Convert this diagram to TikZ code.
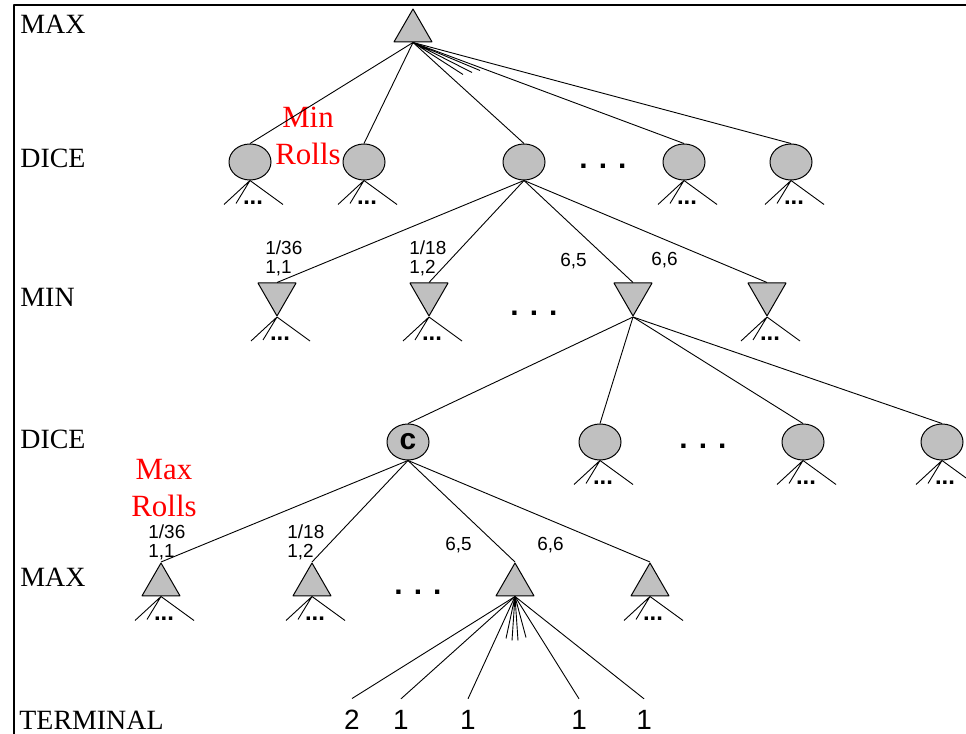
\documentclass[tikz,border=0pt]{standalone}
\usepackage{fontspec}
\setmainfont{Liberation Serif}
\setsansfont{Liberation Sans}
\usetikzlibrary{shapes.geometric,calc}
\definecolor{nodegray}{HTML}{C0C0C0}
\begin{document}
\begin{tikzpicture}[line join=bevel,line width=0.9bp,
    maxnode/.style={draw=black,line width=1bp,fill=nodegray,regular polygon,regular polygon sides=3,minimum size=44bp,inner sep=0pt},
    minnode/.style={maxnode,shape border rotate=180},
    dicenode/.style={draw=black,line width=1bp,fill=nodegray,ellipse,minimum width=42bp,minimum height=36bp,inner sep=0pt},
    rowlabel/.style={anchor=base west,inner sep=0pt,font=\fontsize{28}{34}\selectfont},
    prob/.style={anchor=north west,inner sep=0pt,align=left,font=\sffamily\fontsize{19}{19}\selectfont},
    rolls/.style={text=red,align=center,inner sep=0pt,font=\fontsize{31}{37}\selectfont},
    bigdots/.style={anchor=base,inner sep=0pt,font=\sffamily\bfseries\fontsize{30}{30}\selectfont},
    smalldots/.style={anchor=base,inner sep=0pt,font=\sffamily\bfseries\fontsize{24}{24}\selectfont},
    term/.style={anchor=base,inner sep=0pt,outer sep=11bp,font=\sffamily\fontsize{28}{28}\selectfont},
    ]
    \useasboundingbox (0bp,0bp) rectangle (966bp,734bp);
    \draw [line width=2bp] (14bp,0bp) -- (14bp,729bp) -- (966bp,729bp);
    %% row names
    \node (lmax) at (20bp,700bp) [rowlabel] {MAX};
    \node (ldice) at (20bp,566bp) [rowlabel] {DICE};
    \node (lmin) at (20bp,427bp) [rowlabel] {MIN};
    \node (ldicetwo) at (20bp,285bp) [rowlabel] {DICE};
    \node (lmaxtwo) at (20bp,147bp) [rowlabel] {MAX};
    \node (lterm) at (19bp,5bp) [rowlabel] {TERMINAL};
    %% tree nodes
    \node (r0) at (413bp,703bp) [maxnode] {};
    \node (d1) at (250bp,572bp) [dicenode] {};
    \node (d2) at (364bp,572bp) [dicenode] {};
    \node (d3) at (524bp,572bp) [dicenode] {};
    \node (d4) at (684bp,572bp) [dicenode] {};
    \node (d5) at (791bp,572bp) [dicenode] {};
    \node (n1) at (277bp,440bp) [minnode] {};
    \node (n2) at (429bp,440bp) [minnode] {};
    \node (n3) at (633bp,440bp) [minnode] {};
    \node (n4) at (767bp,440bp) [minnode] {};
    \node (c1) at (408bp,292bp) [dicenode,font=\sffamily\bfseries\fontsize{30}{30}\selectfont] {c};
    \node (e2) at (600bp,292bp) [dicenode] {};
    \node (e3) at (803bp,292bp) [dicenode] {};
    \node (e4) at (942bp,292bp) [dicenode] {};
    \node (m1) at (161bp,149bp) [maxnode] {};
    \node (m2) at (312bp,149bp) [maxnode] {};
    \node (m3) at (515bp,149bp) [maxnode] {};
    \node (m4) at (650bp,149bp) [maxnode] {};
    \node (t1) at (352bp,5bp) [term] {2};
    \node (t2) at (401bp,5bp) [term] {1};
    \node (t3) at (468bp,5bp) [term] {1};
    \node (t4) at (579bp,5bp) [term] {1};
    \node (t5) at (644bp,5bp) [term] {1};
    %% labels
    \node (minrolls) at (308bp,598bp) [rolls] {Min\\Rolls};
    \node (maxrolls) at (164bp,246bp) [rolls] {Max\\Rolls};
    \node (p1) at (265bp,494bp) [prob] {1/36\\1,1};
    \node (p2) at (409bp,494bp) [prob] {1/18\\1,2};
    \node (p3) at (560bp,481bp) [prob] {6,5};
    \node (p4) at (651bp,482bp) [prob] {6,6};
    \node (q1) at (148bp,210bp) [prob] {1/36\\1,1};
    \node (q2) at (287bp,210bp) [prob] {1/18\\1,2};
    \node (q3) at (445bp,197bp) [prob] {6,5};
    \node (q4) at (537bp,197bp) [prob] {6,6};
    \node (gap1) at (603bp,565bp) [bigdots] {. . .};
    \node (gap2) at (534bp,418bp) [bigdots] {. . .};
    \node (gap3) at (703bp,285bp) [bigdots] {. . .};
    \node (gap4) at (418bp,139bp) [bigdots] {. . .};
    %% edges
    \draw [] (r0.south) -- (d1.north);
    \draw [] (r0.south) -- (d2.north);
    \draw [] (r0.south) -- (d3.north);
    \draw [] (r0.south) -- (d4.north);
    \draw [] (r0.south) -- (d5.north);
    \draw [] (r0.south) -- ++(50bp,-32bp) (r0.south) -- ++(59bp,-30bp) (r0.south) -- ++(67bp,-28bp);
    \draw [] (d3.south) -- (n1.north);
    \draw [] (d3.south) -- (n2.north);
    \draw [] (d3.south) -- (n3.north);
    \draw [] (d3.south) -- (n4.north);
    \draw [] (n3.south) -- (c1.north);
    \draw [] (n3.south) -- (e2.north);
    \draw [] (n3.south) -- (e3.north);
    \draw [] (n3.south) -- (e4.north);
    \draw [] (c1.south) -- (m1.north);
    \draw [] (c1.south) -- (m2.north);
    \draw [] (c1.south) -- (m3.north);
    \draw [] (c1.south) -- (m4.north);
    \draw [] (m3.south) -- (t1.north);
    \draw [] (m3.south) -- (t2.north);
    \draw [] (m3.south) -- (t3.north);
    \draw [] (m3.south) -- (t4.north);
    \draw [] (m3.south) -- (t5.north);
    \draw [] (m3.south) -- ++(-9bp,-42bp) (m3.south) -- ++(-3bp,-44bp) (m3.south) -- ++(3bp,-44bp) (m3.south) -- ++(11bp,-41bp);
    %% unexpanded children
    \draw [] (d1.south) -- ++(-26bp,-24bp) (d1.south) -- ++(-14bp,-23bp) (d1.south) -- ++(33bp,-24bp);
    \draw [] (d2.south) -- ++(-26bp,-24bp) (d2.south) -- ++(-14bp,-23bp) (d2.south) -- ++(33bp,-24bp);
    \draw [] (d4.south) -- ++(-26bp,-24bp) (d4.south) -- ++(-14bp,-23bp) (d4.south) -- ++(33bp,-24bp);
    \draw [] (d5.south) -- ++(-26bp,-24bp) (d5.south) -- ++(-14bp,-23bp) (d5.south) -- ++(33bp,-24bp);
    \draw [] (n1.south) -- ++(-26bp,-24bp) (n1.south) -- ++(-14bp,-23bp) (n1.south) -- ++(33bp,-24bp);
    \draw [] (n2.south) -- ++(-26bp,-24bp) (n2.south) -- ++(-14bp,-23bp) (n2.south) -- ++(33bp,-24bp);
    \draw [] (n4.south) -- ++(-26bp,-24bp) (n4.south) -- ++(-14bp,-23bp) (n4.south) -- ++(33bp,-24bp);
    \draw [] (e2.south) -- ++(-26bp,-24bp) (e2.south) -- ++(-14bp,-23bp) (e2.south) -- ++(33bp,-24bp);
    \draw [] (e3.south) -- ++(-26bp,-24bp) (e3.south) -- ++(-14bp,-23bp) (e3.south) -- ++(33bp,-24bp);
    \draw [] (e4.south) -- ++(-26bp,-24bp) (e4.south) -- ++(-14bp,-23bp) (e4.south) -- ++(33bp,-24bp);
    \draw [] (m1.south) -- ++(-26bp,-24bp) (m1.south) -- ++(-14bp,-23bp) (m1.south) -- ++(33bp,-24bp);
    \draw [] (m2.south) -- ++(-26bp,-24bp) (m2.south) -- ++(-14bp,-23bp) (m2.south) -- ++(33bp,-24bp);
    \draw [] (m4.south) -- ++(-26bp,-24bp) (m4.south) -- ++(-14bp,-23bp) (m4.south) -- ++(33bp,-24bp);
    \node (d1x) at ($(d1.south)+(3bp,-24bp)$) [smalldots] {...};
    \node (d2x) at ($(d2.south)+(3bp,-24bp)$) [smalldots] {...};
    \node (d4x) at ($(d4.south)+(3bp,-24bp)$) [smalldots] {...};
    \node (d5x) at ($(d5.south)+(3bp,-24bp)$) [smalldots] {...};
    \node (n1x) at ($(n1.south)+(3bp,-24bp)$) [smalldots] {...};
    \node (n2x) at ($(n2.south)+(3bp,-24bp)$) [smalldots] {...};
    \node (n4x) at ($(n4.south)+(3bp,-24bp)$) [smalldots] {...};
    \node (e2x) at ($(e2.south)+(3bp,-24bp)$) [smalldots] {...};
    \node (e3x) at ($(e3.south)+(3bp,-24bp)$) [smalldots] {...};
    \node (e4x) at ($(e4.south)+(3bp,-24bp)$) [smalldots] {...};
    \node (m1x) at ($(m1.south)+(3bp,-24bp)$) [smalldots] {...};
    \node (m2x) at ($(m2.south)+(3bp,-24bp)$) [smalldots] {...};
    \node (m4x) at ($(m4.south)+(3bp,-24bp)$) [smalldots] {...};
    %
\end{tikzpicture}
\end{document}
